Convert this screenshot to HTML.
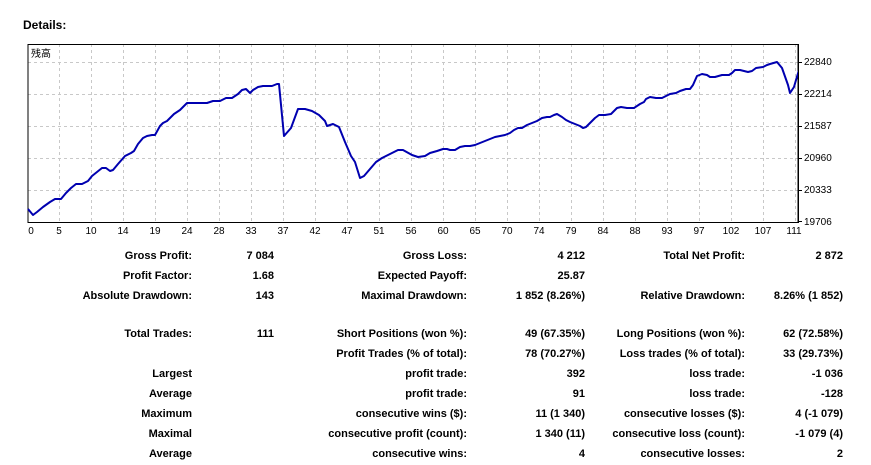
<!DOCTYPE html>
<html><head><meta charset="utf-8"><style>
body{margin:0;width:871px;height:465px;background:#fff;position:relative;overflow:hidden;font-family:"Liberation Sans","Noto Sans CJK SC",sans-serif;}
.t{position:absolute;font-weight:bold;font-size:11px;color:#000;white-space:nowrap;line-height:14px;}
.r{text-align:right;}
</style></head><body>
<div class="t" style="left:23px;top:18px;font-size:12px;">Details:</div>
<svg width="871" height="240" style="position:absolute;left:0;top:0" font-family="Liberation Sans, sans-serif" font-size="10">
<g stroke="#c8c8c8" stroke-dasharray="3,3" stroke-width="1">
<line x1="28" y1="62.5" x2="798" y2="62.5"/><line x1="28" y1="94.5" x2="798" y2="94.5"/><line x1="28" y1="126.5" x2="798" y2="126.5"/><line x1="28" y1="158.5" x2="798" y2="158.5"/><line x1="28" y1="190.5" x2="798" y2="190.5"/>
<path d="M59.5 44V222M91.5 44V222M123.5 44V222M155.5 44V222M187.5 44V222M219.5 44V222M251.5 44V222M283.5 44V222M315.5 44V222M347.5 44V222M379.5 44V222M411.5 44V222M443.5 44V222M475.5 44V222M507.5 44V222M539.5 44V222M571.5 44V222M603.5 44V222M635.5 44V222M667.5 44V222M699.5 44V222M731.5 44V222M763.5 44V222M795.5 44V222"/>
</g>
<rect x="28" y="44.5" width="770" height="178" fill="none" stroke="#000" stroke-width="1"/>
<g stroke="#000"><path d="M798 62.5h4M798 94.5h4M798 126.5h4M798 158.5h4M798 190.5h4M798 221.5h4"/></g>
<text x="31" y="57" font-size="10" font-family="Noto Sans CJK SC, sans-serif">残高</text>
<polyline fill="none" stroke="#0000b0" stroke-width="2" stroke-linejoin="round" points="28,209 33,215 37,212 43,207 50,202 55,199 61,199 66,193 71,188 76,184 82,184 88,181 92,176 97,172 102,168 106,168 110,171 113,170 118,164 125,156 131,153 134,151 138,144 143,138 147,136 152,135 155,135 160,126 163,123 167,121 174,114 180,110 187,103 195,103 207,103 213,101 220,101 226,98 232,98 238,94 242,90 246,89 250,93 253,90 258,87 263,86 272,86 277,84 279,84 284,136 291,128 298,109 305,109 312,111 319,115 325,121 327,126 333,124 339,127 345,142 351,156 355,162 360,178 364,176 370,169 376,162 382,158 388,155 394,152 398,150 403,150 412,155 418,157 425,156 430,153 437,151 443,149 447,149 450,150 455,150 460,147 465,146 470,146 475,145 480,143 485,141 490,139 495,137 500,136 505,135 510,133 514,130 518,128 522,128 527,125 532,123 537,121 542,118 547,117 550,117 554,115 557,114 562,117 566,120 570,122 575,124 580,126 583,128 586,127 590,123 595,118 599,115 605,115 611,114 617,108 621,107 627,108 634,108 640,104 644,102 646,99 650,97 656,98 662,98 666,96 670,94 676,93 680,91 686,89 690,89 693,85 697,76 702,74 707,75 710,77 715,77 722,75 729,75 732,73 735,70 740,70 744,71 748,72 752,71 756,68 763,67 767,65 770,64 777,62 782,68 788,85 790,93 794,87 796,80 799,70 802,65 806,63"/>
<rect x="799" y="44" width="20" height="180" fill="#fff"/>
<g stroke="#000"><path d="M798 62.5h4M798 94.5h4M798 126.5h4M798 158.5h4M798 190.5h4M798 221.5h4"/></g>
<line x1="798.5" y1="44" x2="798.5" y2="223" stroke="#000"/>
<g fill="#000">
<text x="804" y="65">22840</text><text x="804" y="97">22214</text><text x="804" y="129">21587</text><text x="804" y="161">20960</text><text x="804" y="193">20333</text><text x="804" y="225">19706</text>
</g>
<g fill="#000" text-anchor="middle">
<text x="31" y="234">0</text><text x="59" y="234">5</text><text x="91" y="234">10</text><text x="123" y="234">14</text><text x="155" y="234">19</text><text x="187" y="234">24</text><text x="219" y="234">28</text><text x="251" y="234">33</text><text x="283" y="234">37</text><text x="315" y="234">42</text><text x="347" y="234">47</text><text x="379" y="234">51</text><text x="411" y="234">56</text><text x="443" y="234">60</text><text x="475" y="234">65</text><text x="507" y="234">70</text><text x="539" y="234">74</text><text x="571" y="234">79</text><text x="603" y="234">84</text><text x="635" y="234">88</text><text x="667" y="234">93</text><text x="699" y="234">97</text><text x="731" y="234">102</text><text x="763" y="234">107</text><text x="794" y="234">111</text>
</g>
</svg>

<!-- col1 labels right at 192 -->
<div class="t r" style="right:679px;top:249px">Gross Profit:</div>
<div class="t r" style="right:679px;top:269px">Profit Factor:</div>
<div class="t r" style="right:679px;top:289px">Absolute Drawdown:</div>
<div class="t r" style="right:679px;top:327px">Total Trades:</div>
<div class="t r" style="right:679px;top:367px">Largest</div>
<div class="t r" style="right:679px;top:387px">Average</div>
<div class="t r" style="right:679px;top:407px">Maximum</div>
<div class="t r" style="right:679px;top:427px">Maximal</div>
<div class="t r" style="right:679px;top:447px">Average</div>
<!-- col2 values right at 274 -->
<div class="t r" style="right:597px;top:249px">7 084</div>
<div class="t r" style="right:597px;top:269px">1.68</div>
<div class="t r" style="right:597px;top:289px">143</div>
<div class="t r" style="right:597px;top:327px">111</div>
<!-- col3 labels right at 467 -->
<div class="t r" style="right:404px;top:249px">Gross Loss:</div>
<div class="t r" style="right:404px;top:269px">Expected Payoff:</div>
<div class="t r" style="right:404px;top:289px">Maximal Drawdown:</div>
<div class="t r" style="right:404px;top:327px">Short Positions (won %):</div>
<div class="t r" style="right:404px;top:347px">Profit Trades (% of total):</div>
<div class="t r" style="right:404px;top:367px">profit trade:</div>
<div class="t r" style="right:404px;top:387px">profit trade:</div>
<div class="t r" style="right:404px;top:407px">consecutive wins ($):</div>
<div class="t r" style="right:404px;top:427px">consecutive profit (count):</div>
<div class="t r" style="right:404px;top:447px">consecutive wins:</div>
<!-- col4 values right at 585 -->
<div class="t r" style="right:286px;top:249px">4 212</div>
<div class="t r" style="right:286px;top:269px">25.87</div>
<div class="t r" style="right:286px;top:289px">1 852 (8.26%)</div>
<div class="t r" style="right:286px;top:327px">49 (67.35%)</div>
<div class="t r" style="right:286px;top:347px">78 (70.27%)</div>
<div class="t r" style="right:286px;top:367px">392</div>
<div class="t r" style="right:286px;top:387px">91</div>
<div class="t r" style="right:286px;top:407px">11 (1 340)</div>
<div class="t r" style="right:286px;top:427px">1 340 (11)</div>
<div class="t r" style="right:286px;top:447px">4</div>
<!-- col5 labels right at 745 -->
<div class="t r" style="right:126px;top:249px">Total Net Profit:</div>
<div class="t r" style="right:126px;top:289px">Relative Drawdown:</div>
<div class="t r" style="right:126px;top:327px">Long Positions (won %):</div>
<div class="t r" style="right:126px;top:347px">Loss trades (% of total):</div>
<div class="t r" style="right:126px;top:367px">loss trade:</div>
<div class="t r" style="right:126px;top:387px">loss trade:</div>
<div class="t r" style="right:126px;top:407px">consecutive losses ($):</div>
<div class="t r" style="right:126px;top:427px">consecutive loss (count):</div>
<div class="t r" style="right:126px;top:447px">consecutive losses:</div>
<!-- col6 values right at 843 -->
<div class="t r" style="right:28px;top:249px">2 872</div>
<div class="t r" style="right:28px;top:289px">8.26% (1 852)</div>
<div class="t r" style="right:28px;top:327px">62 (72.58%)</div>
<div class="t r" style="right:28px;top:347px">33 (29.73%)</div>
<div class="t r" style="right:28px;top:367px">-1 036</div>
<div class="t r" style="right:28px;top:387px">-128</div>
<div class="t r" style="right:28px;top:407px">4 (-1 079)</div>
<div class="t r" style="right:28px;top:427px">-1 079 (4)</div>
<div class="t r" style="right:28px;top:447px">2</div>
</body></html>
